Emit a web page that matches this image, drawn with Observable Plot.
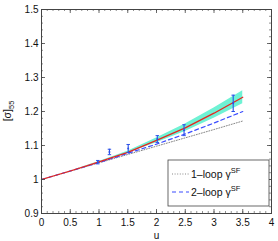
<!DOCTYPE html>
<html><head><meta charset="utf-8">
<script src="https://cdn.jsdelivr.net/npm/d3@7"></script>
<script src="https://cdn.jsdelivr.net/npm/@observablehq/plot@0.6"></script>
<style>
html,body{margin:0;padding:0;background:#fff;}
svg text{font-family:"Liberation Sans",Arial,sans-serif;}
</style>
</head><body><div id="chart"></div>
<script>
// lattice data points
const ptU = [0.9793, 1.1814, 1.5078, 2.0142, 2.4792, 3.3340];
const ptS = [1.051, 1.081, 1.091, 1.119, 1.145, 1.224];
const ptE = [0.005, 0.008, 0.012, 0.010, 0.016, 0.024];
// fit curve with error band
const fitU  = [0, 0.5, 1, 1.5, 2, 2.5, 3, 3.5];
const fitS  = [1.000, 1.025, 1.052, 1.080, 1.115, 1.152, 1.195, 1.242];
const fitLo = [1.000, 1.025, 1.051, 1.077, 1.108, 1.141, 1.180, 1.223];
const fitHi = [1.000, 1.025, 1.053, 1.083, 1.122, 1.163, 1.210, 1.261];
// perturbative curves
const oneU = [0, 1, 2, 3, 3.5];
const oneS = [1.000, 1.049, 1.098, 1.147, 1.172];
const twoU = [0, 1, 2, 2.5, 3, 3.5];
const twoS = [1.000, 1.050, 1.104, 1.134, 1.166, 1.200];
// ticks
const xTicks = [0, 0.5, 1, 1.5, 2, 2.5, 3, 3.5, 4];
const yTicks = [0.9, 1, 1.1, 1.2, 1.3, 1.4, 1.5];
const xMinor = d3.range(0, 41).map(i => i / 10);
const yMinor = d3.range(0, 31).map(i => +(0.9 + i * 0.02).toFixed(2));
const legendLabels = ["1\u2013loop \u03b3", "2\u2013loop \u03b3"];
const capHalf = 0.03;

const pts = ptU.map((u, i) => ({u, s: ptS[i], lo: ptS[i] - ptE[i], hi: ptS[i] + ptE[i]}));
const fit = fitU.map((u, i) => ({u, s: fitS[i], lo: fitLo[i], hi: fitHi[i]}));
const one = oneU.map((u, i) => ({u, s: oneS[i]}));
const two = twoU.map((u, i) => ({u, s: twoS[i]}));

const W = 278, H = 241;
const mL = 41, mR = 7, mT = 9, mB = 28;
const innerH = H - mT - mB, innerW = W - mL - mR;
const axisCol = "#444";
const ebCol = "#2a50e8";

const plot = Plot.plot({
  width: W, height: H,
  marginLeft: mL, marginRight: mR, marginTop: mT, marginBottom: mB,
  style: {fontFamily: "Liberation Sans, Arial, sans-serif", fontSize: "10px", color: "#111", background: "#fff"},
  x: {type: "linear", domain: [0, 4]},
  y: {type: "linear", domain: [0.9, 1.5]},
  marks: [
    Plot.areaY(fit, {x: "u", y1: "lo", y2: "hi", fill: "#6ff2d4", fillOpacity: 1}),
    Plot.line(one, {x: "u", y: "s", stroke: "#888", strokeWidth: 1, strokeDasharray: "1,1.6"}),
    Plot.line(two, {x: "u", y: "s", stroke: "#3a4cff", strokeWidth: 1.2, strokeDasharray: "4,3"}),
    Plot.line(fit, {x: "u", y: "s", stroke: "#e8251e", strokeWidth: 1.3}),
    Plot.ruleX(pts, {x: "u", y1: "lo", y2: "hi", stroke: ebCol, strokeWidth: 1.1}),
    Plot.link(pts, {x1: d => d.u - capHalf, x2: d => d.u + capHalf, y1: "lo", y2: "lo", stroke: ebCol, strokeWidth: 1}),
    Plot.link(pts, {x1: d => d.u - capHalf, x2: d => d.u + capHalf, y1: "hi", y2: "hi", stroke: ebCol, strokeWidth: 1}),
    Plot.dot(pts, {x: "u", y: "s", r: 1, fill: ebCol, stroke: null}),
    // minor ticks (inward, all sides)
    Plot.ruleX(xMinor, {stroke: axisCol, strokeWidth: 0.6, insetTop: innerH - 2}),
    Plot.ruleX(xMinor, {stroke: axisCol, strokeWidth: 0.6, insetBottom: innerH - 2}),
    Plot.ruleY(yMinor, {stroke: axisCol, strokeWidth: 0.6, insetRight: innerW - 2}),
    Plot.ruleY(yMinor, {stroke: axisCol, strokeWidth: 0.6, insetLeft: innerW - 2}),
    // major ticks
    Plot.ruleX(xTicks, {stroke: axisCol, strokeWidth: 0.8, insetTop: innerH - 4}),
    Plot.ruleX(xTicks, {stroke: axisCol, strokeWidth: 0.8, insetBottom: innerH - 4}),
    Plot.ruleY(yTicks, {stroke: axisCol, strokeWidth: 0.8, insetRight: innerW - 4}),
    Plot.ruleY(yTicks, {stroke: axisCol, strokeWidth: 0.8, insetLeft: innerW - 4}),
    Plot.axisX({ticks: xTicks, tickSize: 0, tickPadding: 5, tickFormat: d => String(d), label: "u", labelAnchor: "center", labelArrow: "none", labelOffset: 25}),
    Plot.axisY({ticks: yTicks, tickSize: 0, tickPadding: 3, tickFormat: d => String(d), label: null}),
    Plot.frame({stroke: axisCol, strokeWidth: 1})
  ]
});
document.getElementById("chart").appendChild(plot);

// y-axis label with subscript
const svg = d3.select(plot.tagName.toLowerCase() === "svg" ? plot : plot.querySelector("svg"));
const yl = svg.append("text")
  .attr("transform", `translate(11,${mT + innerH / 2}) rotate(-90)`)
  .attr("text-anchor", "middle")
  .attr("font-size", 10.5).attr("fill", "#111");
yl.append("tspan").text("[\u03c3]");
yl.append("tspan").attr("font-size", 7.5).attr("dy", 3).text("55");

// legend box
const lg = svg.append("g").attr("transform", "translate(168,160)");
lg.append("rect").attr("width", 101).attr("height", 46).attr("fill", "#fff").attr("stroke", "#444").attr("stroke-width", 0.8);
const styles = [
  {stroke: "#888", dash: "1,1.6", w: 1},
  {stroke: "#3a4cff", dash: "4,3", w: 1.2}
];
legendLabels.forEach((lab, i) => {
  const yy = 14 + i * 18;
  lg.append("line").attr("x1", 4).attr("x2", 21).attr("y1", yy).attr("y2", yy)
    .attr("stroke", styles[i].stroke).attr("stroke-width", styles[i].w).attr("stroke-dasharray", styles[i].dash);
  const t = lg.append("text").attr("x", 23).attr("y", yy + 3.5).attr("text-anchor", "start")
    .attr("font-size", 10.5).attr("fill", "#111");
  t.append("tspan").text(lab);
  t.append("tspan").attr("font-size", 7.5).attr("dy", -5).text("SF");
});
</script>
</body></html>
